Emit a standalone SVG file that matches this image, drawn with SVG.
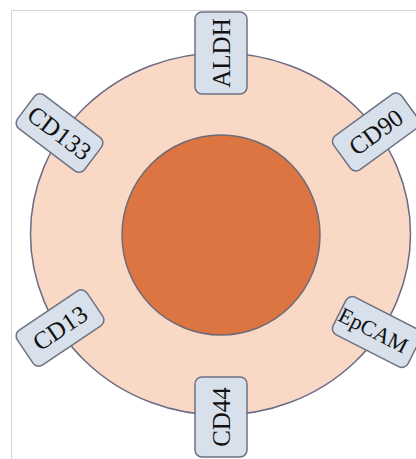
<svg xmlns="http://www.w3.org/2000/svg" width="416" height="459" viewBox="0 0 416 459">
<style>
.frame{stroke:#d4d4d4;stroke-width:1;fill:none}
.outer{fill:#f9d9c6;stroke:#6b6b86;stroke-width:1.5}
.inner{fill:#dd7542;stroke:#6e6a78;stroke-width:1.5}
.box{fill:#d7e0eb;stroke:#6d7282;stroke-width:1.5}
.lbl{font-family:"Liberation Serif","Times New Roman",serif;font-size:25px;fill:#111;text-anchor:middle;dominant-baseline:central}
</style>
<rect width="416" height="459" fill="#fff"/>
<path class="frame" d="M11.5 459 V10.5 H416"/>
<g id="cell">
<ellipse class="outer" cx="220.5" cy="234" rx="190" ry="181"/>
<ellipse class="inner" cx="221" cy="235" rx="99" ry="100"/>
</g>
<g id="connectors"/>
<g id="ALDH" transform="translate(221,53)">
<rect class="box" x="-26" y="-41" width="52" height="82" rx="7"/>
<text class="lbl" transform="rotate(-90)">ALDH</text>
</g>
<g id="CD44" transform="translate(221,417)">
<rect class="box" x="-26" y="-40" width="52" height="80" rx="7"/>
<text class="lbl" transform="rotate(-90)">CD44</text>
</g>
<g id="CD133" transform="translate(59.5,133) rotate(37)">
<rect class="box" x="-42" y="-21" width="84" height="42" rx="7"/>
<text class="lbl">CD133</text>
</g>
<g id="CD90" transform="translate(376,132) rotate(-36)">
<rect class="box" x="-42" y="-21" width="84" height="42" rx="7"/>
<text class="lbl">CD90</text>
</g>
<g id="CD13" transform="translate(60,328) rotate(-34)">
<rect class="box" x="-42" y="-21" width="84" height="42" rx="7"/>
<text class="lbl">CD13</text>
</g>
<g id="EpCAM" transform="translate(377,332) rotate(27)">
<rect class="box" x="-42" y="-21" width="84" height="42" rx="7"/>
<text class="lbl" x="-4" style="font-size:22px">EpCAM</text>
</g>
</svg>
